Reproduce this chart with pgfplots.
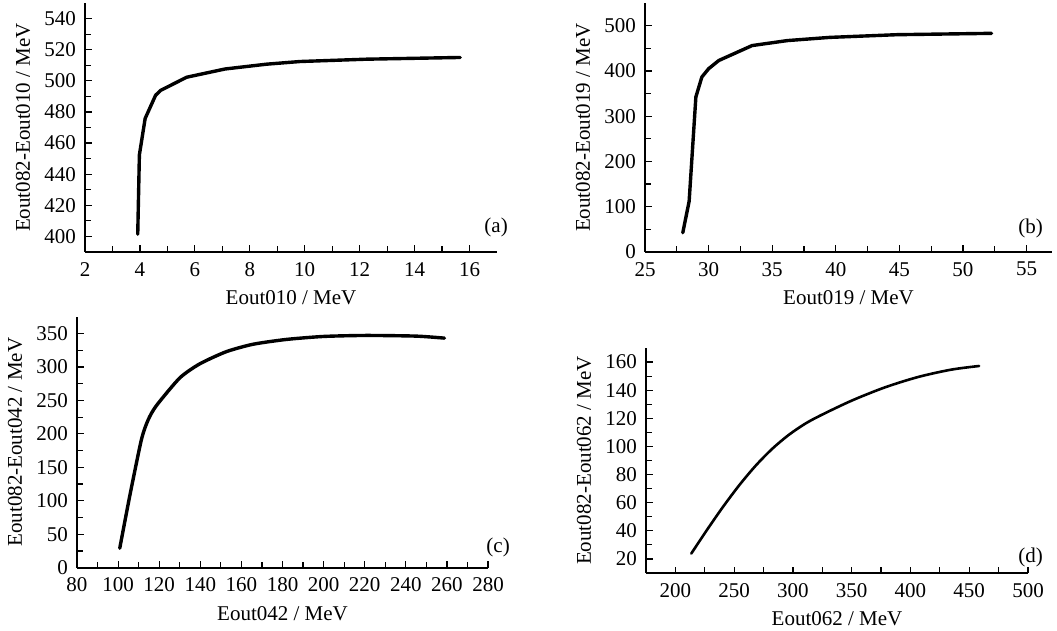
\documentclass[border=0pt]{standalone}
\usepackage{fontspec}
\setmainfont{Liberation Serif}
\usepackage{pgfplots}
\pgfplotsset{compat=1.18}

\pgfplotsset{
  panel/.style={
    scale only axis,
    anchor=south west,
    axis x line*=bottom,
    axis y line*=left,
    axis line style={-, line width=1.6pt, black},
    tick align=inside,
    major tick length=6.5pt,
    minor tick length=6pt,
    every tick/.style={line width=1.2pt, black},
    minor tick num=1,
    tick label style={font=\fontsize{21}{24}\selectfont, black},
    label style={font=\fontsize{21}{24}\selectfont, black},
    yticklabel style={xshift=-2pt},
    xticklabel style={yshift=-3pt},
    /pgf/number format/assume math mode=true,
    /pgf/number format/1000 sep={},
    clip=false,
  },
  curve/.style={black, line width=3.4pt, line join=round, line cap=round, mark=none},
}

\begin{document}
\fontsize{21}{24}\selectfont
\begin{tikzpicture}
\useasboundingbox (0pt,0pt) rectangle (1057pt,630pt);

% (a)
\begin{axis}[panel,
  at={(85pt,378pt)}, width=412pt, height=249pt,
  xmin=2, xmax=17, ymin=390, ymax=550,
  xtick={2,4,...,16}, ytick={400,420,...,540},
  xlabel={Eout010 / MeV}, ylabel={Eout082-Eout010 / MeV},
]
\addplot[curve] coordinates {
  (3.92,401.5) (3.98,452.4) (4.19,475.8) (4.57,490.7) (4.75,493.8)
  (5.70,502.3) (7.1,507.6) (8.62,510.7) (9.83,512.4) (12.26,513.9) (15.66,515.0)
};
\node[anchor=south east, inner sep=0pt, xshift=11pt, yshift=15pt] at (rel axis cs:1,0) {(a)};
\end{axis}

% (b)
\begin{axis}[panel,
  at={(645pt,378pt)}, width=407pt, height=249pt,
  xmin=25, xmax=57, ymin=0, ymax=550,
  xtick={25,30,...,55}, ytick={0,100,...,500},
  xlabel={Eout019 / MeV}, ylabel={Eout082-Eout019 / MeV},
]
\addplot[curve] coordinates {
  (27.97,42.5) (28.47,112) (29.0,342.6) (29.47,386.5) (30.0,404.8)
  (30.8,423) (33.42,456) (36.2,467) (39.5,474) (44.8,480) (52.25,483)
};
\node[anchor=south east, inner sep=0pt, xshift=-9pt, yshift=14pt] at (rel axis cs:1,0) {(b)};
\end{axis}

% (c)
\begin{axis}[panel,
  at={(77pt,62.3pt)}, width=411pt, height=251pt,
  xmin=80, xmax=280, ymin=0, ymax=375,
  xtick={80,100,...,280}, ytick={0,50,...,350},
  xlabel={Eout042 / MeV}, ylabel={Eout082-Eout042 / MeV},
]
\addplot[curve, smooth, tension=0.4] coordinates {
  (100.8,29) (105.6,106) (111.3,190.8) (114.6,220.7) (118.6,242) (130,283.5)
  (139.7,304.5) (152.6,322.7) (165.6,333.8) (181.8,341) (200,345.5)
  (220.7,347) (245,346) (258.8,343)
};
\node[anchor=south east, inner sep=0pt, xshift=22pt, yshift=11pt] at (rel axis cs:1,0) {(c)};
\end{axis}

% (d)
\begin{axis}[panel,
  at={(646pt,57pt)}, width=382pt, height=225pt,
  xmin=175, xmax=500, ymin=10, ymax=170,
  xtick={200,250,...,500}, ytick={20,40,...,160},
  xlabel={Eout062 / MeV}, ylabel={Eout082-Eout062 / MeV},
]
\addplot[curve, line width=2.6pt, smooth, tension=0.5] coordinates {
  (213.5,23.8) (226.2,39.8) (240.3,56.8) (254.4,72.5) (268.5,86.5)
  (282.5,98.4) (296.6,108.3) (310.7,116.3) (324.8,122.6) (350.6,132.8)
  (378.6,142.1) (406.6,149.4) (434.6,154.6) (458.4,157.2)
};
\node[anchor=south east, inner sep=0pt, xshift=15pt, yshift=6pt] at (rel axis cs:1,0) {(d)};
\end{axis}
\end{tikzpicture}
\end{document}
